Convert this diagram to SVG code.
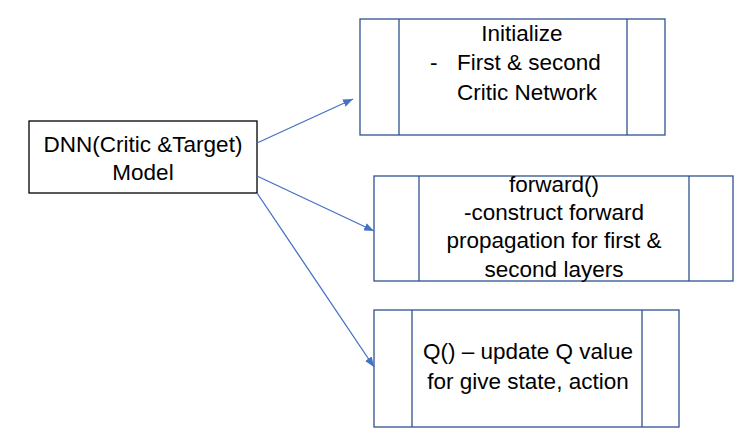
<svg xmlns="http://www.w3.org/2000/svg" width="747" height="443" viewBox="0 0 747 443">
<defs>
<marker id="ah" viewBox="0 0 10 8" refX="10" refY="4" markerWidth="10" markerHeight="8" markerUnits="userSpaceOnUse" orient="auto">
<path d="M0,0 L10,4 L0,8 z" fill="#4472C4"/>
</marker>
<style>
.t{font-family:"Liberation Sans",Arial,sans-serif;font-size:22.5px;fill:#000;text-anchor:middle}
.b{fill:#fff;stroke:#2F528F;stroke-width:1.3}
.l{stroke:#2F528F;stroke-width:1.3}
.c{stroke:#4472C4;stroke-width:1.3;fill:none;marker-end:url(#ah)}
</style>
</defs>
<rect width="747" height="443" fill="#fff"/>
<g id="model">
<rect x="29" y="121" width="228" height="72" fill="#fff" stroke="#000" stroke-width="1.3"/>
<text class="t" x="143" y="152">DNN(Critic &amp;Target)</text>
<text class="t" x="143" y="180">Model</text>
</g>
<g id="init">
<rect class="b" x="360" y="19" width="305" height="116"/>
<line class="l" x1="399" y1="19" x2="399" y2="135"/>
<line class="l" x1="627" y1="19" x2="627" y2="135"/>
<text class="t" x="522" y="41">Initialize</text>
<text class="t" x="430" y="70" style="text-anchor:start">-</text>
<text class="t" x="457" y="70" style="text-anchor:start">First &amp; second</text>
<text class="t" x="457" y="100" style="text-anchor:start">Critic Network</text>
</g>
<g id="forward">
<rect class="b" x="374" y="176" width="359" height="105"/>
<line class="l" x1="419" y1="176" x2="419" y2="281"/>
<line class="l" x1="689" y1="176" x2="689" y2="281"/>
<text class="t" x="554" y="192">forward()</text>
<text class="t" x="554" y="220">-construct forward</text>
<text class="t" x="554" y="248">propagation for first &amp;</text>
<text class="t" x="554" y="277">second layers</text>
</g>
<g id="q">
<rect class="b" x="374" y="310" width="305" height="117"/>
<line class="l" x1="412" y1="310" x2="412" y2="427"/>
<line class="l" x1="642" y1="310" x2="642" y2="427"/>
<text class="t" x="528" y="359">Q() – update Q value</text>
<text class="t" x="528" y="389">for give state, action</text>
</g>
<g id="connectors">
<line class="c" x1="257" y1="143" x2="353" y2="99"/>
<line class="c" x1="257" y1="176" x2="374" y2="231"/>
<line class="c" x1="257" y1="193" x2="374" y2="367"/>
</g>
</svg>
